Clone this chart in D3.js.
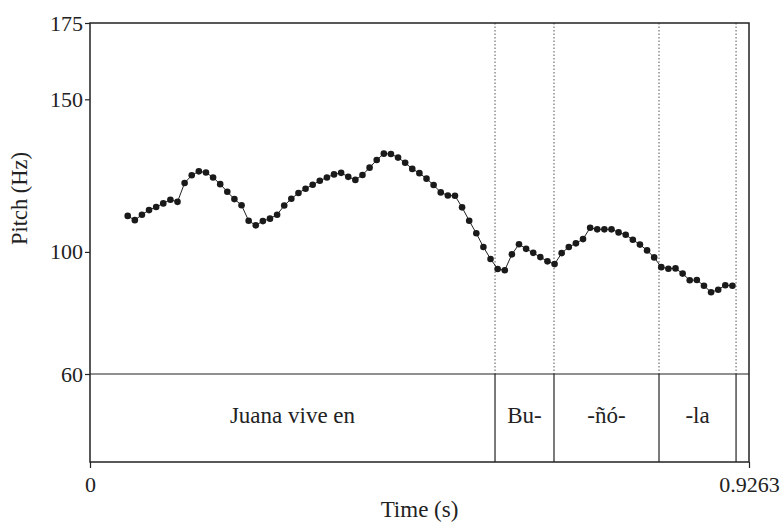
<!DOCTYPE html>
<html>
<head>
<meta charset="utf-8">
<script src="https://cdn.jsdelivr.net/npm/d3@7"></script>
<style>
  body { margin: 0; background: #fff; }
  text { font-family: "Liberation Serif", "DejaVu Serif", serif; fill: #222; }
</style>
</head>
<body>
<script>
// Pitch track (time in s, pitch in Hz)
const times = [
  0.053, 0.063, 0.073, 0.083, 0.093, 0.103, 0.113, 0.123, 0.133, 0.143,
  0.153, 0.163, 0.173, 0.183, 0.193, 0.203, 0.213, 0.223, 0.233, 0.243,
  0.253, 0.263, 0.273, 0.283, 0.293, 0.303, 0.313, 0.323, 0.333, 0.343,
  0.353, 0.363, 0.373, 0.383, 0.393, 0.403, 0.413, 0.423, 0.433, 0.443,
  0.453, 0.463, 0.473, 0.483, 0.493, 0.503, 0.513, 0.523, 0.533, 0.543,
  0.553, 0.563, 0.573, 0.583, 0.593, 0.603, 0.613, 0.623, 0.633, 0.643,
  0.653, 0.663, 0.673, 0.683, 0.693, 0.703, 0.713, 0.723, 0.733, 0.743,
  0.753, 0.763, 0.773, 0.783, 0.793, 0.803, 0.813, 0.823, 0.833, 0.843,
  0.853, 0.863, 0.873, 0.883, 0.893, 0.903
];
const pitch = [
  111.8, 110.4, 112.2, 113.7, 114.7, 115.9, 117.1, 116.4, 122.6, 125.1,
  126.4, 126.0, 124.4, 122.2, 119.7, 117.3, 115.3, 110.2, 108.7, 110.1,
  110.9, 112.2, 115.2, 117.4, 119.3, 120.7, 122.0, 123.3, 124.4, 125.4,
  125.9, 124.6, 123.6, 125.2, 127.6, 130.1, 132.2, 132.1, 130.9, 129.2,
  127.2, 125.8, 124.0, 121.9, 119.5, 118.5, 118.4, 114.6, 110.2, 106.1,
  101.6, 97.7, 94.4, 94.0, 99.2, 102.5, 101.0, 99.7, 98.3, 96.9,
  96.0, 99.6, 101.6, 102.8, 104.2, 107.9, 107.4, 107.4, 107.4, 106.4,
  105.6, 104.0, 102.4, 100.5, 98.2, 95.0, 94.5, 94.6, 92.9, 90.7,
  90.8, 88.9, 86.8, 87.6, 89.1, 88.9
];

// TextGrid tier
const boundaries = [0.5693, 0.6522, 0.7998, 0.9081];
const intervals = [
  { start: 0, end: 0.5693, label: "Juana vive en" },
  { start: 0.5693, end: 0.6522, label: "Bu-" },
  { start: 0.6522, end: 0.7998, label: "-ñó-" },
  { start: 0.7998, end: 0.9081, label: "-la" },
  { start: 0.9081, end: 0.9263, label: "" }
];

const yTicks = [60, 100, 150, 175];
const tMax = 0.9263;

const width = 782, height = 522;
const plotLeft = 90, plotRight = 749, plotTop = 23, tierTop = 374, plotBottom = 462;
const serif = "Liberation Serif";

const svg = d3.select("body").append("svg")
  .attr("width", width)
  .attr("height", height);

const x = d3.scaleLinear().domain([0, tMax]).range([plotLeft, plotRight]);
const y = d3.scaleLinear().domain([60, 175]).range([tierTop, plotTop]);

// dotted boundary lines in pitch area
svg.selectAll("line.bound")
  .data(boundaries)
  .enter().append("line")
  .attr("x1", d => x(d)).attr("x2", d => x(d))
  .attr("y1", plotTop).attr("y2", tierTop)
  .attr("stroke", "#555").attr("stroke-width", 1)
  .attr("stroke-dasharray", "1.5,2");

// solid boundary lines in tier
svg.selectAll("line.tier")
  .data(boundaries)
  .enter().append("line")
  .attr("x1", d => x(d)).attr("x2", d => x(d))
  .attr("y1", tierTop).attr("y2", plotBottom)
  .attr("stroke", "#222").attr("stroke-width", 1.2);

// frame
svg.append("rect")
  .attr("x", plotLeft).attr("y", plotTop)
  .attr("width", plotRight - plotLeft).attr("height", plotBottom - plotTop)
  .attr("fill", "none").attr("stroke", "#222").attr("stroke-width", 1.5);
svg.append("line")
  .attr("x1", plotLeft).attr("x2", plotRight)
  .attr("y1", tierTop).attr("y2", tierTop)
  .attr("stroke", "#222").attr("stroke-width", 1.2);

// y axis
const yAxis = svg.append("g")
  .attr("transform", `translate(${plotLeft},0)`)
  .call(d3.axisLeft(y).tickValues(yTicks).tickSize(5).tickPadding(2).tickFormat(d3.format("d")));
yAxis.select(".domain").remove();
yAxis.selectAll("line").attr("stroke", "#222").attr("stroke-width", 1.2);
yAxis.selectAll("text")
  .attr("font-size", 22).attr("fill", "#222")
  .attr("font-family", serif);

// x axis
const xAxis = svg.append("g")
  .attr("transform", `translate(0,${plotBottom})`)
  .call(d3.axisBottom(x).tickValues([0, tMax]).tickSize(6).tickPadding(8)
    .tickFormat(d => d === 0 ? "0" : "0.9263"));
xAxis.select(".domain").remove();
xAxis.selectAll("line").attr("stroke", "#222").attr("stroke-width", 1.2);
xAxis.selectAll("text")
  .attr("font-size", 22).attr("fill", "#222")
  .attr("font-family", serif);

// axis titles
svg.append("text")
  .attr("transform", `translate(27,${(plotTop + tierTop) / 2}) rotate(-90)`)
  .attr("text-anchor", "middle")
  .attr("font-family", serif)
  .attr("font-size", 22.5)
  .text("Pitch (Hz)");
svg.append("text")
  .attr("x", (plotLeft + plotRight) / 2).attr("y", 517)
  .attr("text-anchor", "middle")
  .attr("font-family", serif)
  .attr("font-size", 23)
  .text("Time (s)");

// tier labels
svg.selectAll("text.lab")
  .data(intervals)
  .enter().append("text")
  .attr("x", d => x((d.start + d.end) / 2))
  .attr("y", (tierTop + plotBottom) / 2 + 5)
  .attr("text-anchor", "middle")
  .attr("font-family", serif)
  .attr("font-size", 23)
  .text(d => d.label);

// pitch line + points
const pts = times.map((t, i) => ({ t: t, f: pitch[i] }));
svg.append("path")
  .datum(pts)
  .attr("fill", "none")
  .attr("stroke", "#222")
  .attr("stroke-width", 1)
  .attr("d", d3.line().x(d => x(d.t)).y(d => y(d.f)));
svg.selectAll("circle.pt")
  .data(pts)
  .enter().append("circle")
  .attr("cx", d => x(d.t))
  .attr("cy", d => y(d.f))
  .attr("r", 3.3)
  .attr("fill", "#1a1a1a");
</script>
</body>
</html>
